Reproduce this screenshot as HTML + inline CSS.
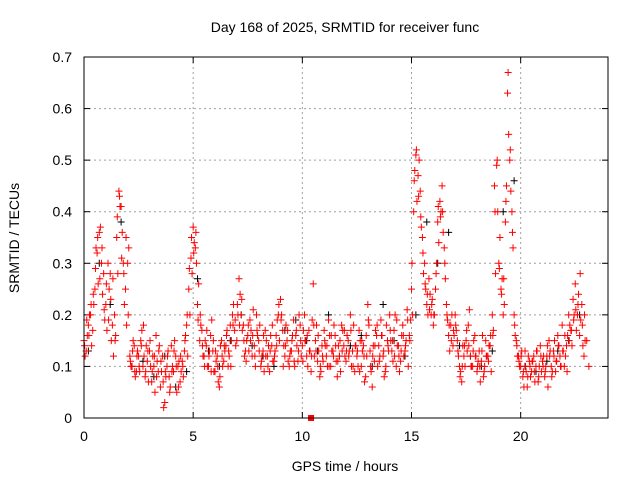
<!DOCTYPE html>
<html><head><meta charset="utf-8"><style>
body{margin:0;background:#fff;width:640px;height:480px;overflow:hidden}
svg{font-family:"Liberation Sans",sans-serif}
</style></head><body>
<svg id="chart" width="640" height="480" xmlns="http://www.w3.org/2000/svg">
<rect width="640" height="480" fill="#fff"/>
<text x="345" y="32" font-size="14" text-anchor="middle">Day 168 of 2025, SRMTID for receiver func</text>
<text x="345" y="471" font-size="14" text-anchor="middle">GPS time / hours</text>
<text transform="translate(19,238) rotate(-90)" font-size="14" text-anchor="middle">SRMTID / TECUs</text>
<g id="grid"></g><g id="ticks"></g><g id="marks"></g>
<rect x="84" y="57" width="524" height="361" fill="none" stroke="#000" stroke-width="1"/>
</svg>
<script>
const xTicks=[0,5,10,15,20];
const yTicks=[0,0.1,0.2,0.3,0.4,0.5,0.6,0.7];
const redStart=0, redStep=0.1;
const redA=[.15,.13,.18,.2,.17,.25,.32,.36,.3,.28,.22,.3,.28,.18,.2,.35,.44,.41,.3,.25,.3,.12,.1,.14,.09,.12,.15,.1,.08,.11,.13,.07,.1,.16,.09,.06,.12,.03,.1,.08,.14,.09,.12,.1,.07,.11,.13,.18,.25,.31,.37,.33,.22,.15,.17,.12,.14,.1,.16,.13,.09,.12,.06,.15,.11,.14,.1,.18,.2,.17,.15,.27,.2,.18,.13,.16,.19,.12,.14,.2,.15,.1,.13,.17,.12,.09,.14,.11,.16,.2,.23,.17,.12,.15,.1,.13,.19,.16,.11,.18,.14,.2,.12,.17,.09,.26,.15,.11,.08,.14,.17,.12,.19,.1,.13,.16,.08,.12,.18,.14,.11,.15,.2,.13,.09,.12,.17,.1,.14,.08,.22,.13,.06,.11,.16,.14,.19,.12,.09,.15,.2,.13,.17,.1,.14,.11,.18,.13,.21,.16,.25,.4,.51,.47,.44,.35,.3,.22,.27,.2,.18,.25,.38,.42,.45,.33,.22,.16,.18,.14,.2,.15,.1,.07,.12,.15,.18,.12,.1,.16,.09,.13,.11,.08,.15,.12,.14,.2,.45,.49,.3,.25,.2,.38,.63,.5,.4,.2,.15,.12,.1,.08,.13,.06,.11,.09,.12,.1,.07,.14,.11,.08,.12,.15,.1,.13,.09,.16,.12,.18,.1,.14,.2,.17,.23,.26,.2,.16,.22,.12];
const redBStart=0.05;
const redB=[.12,.16,.2,.14,.22,.33,.26,.37,.24,.19,.17,.25,.15,.12,.16,.28,.41,.36,.22,.18,.33,.1,.15,.08,.13,.09,.17,.12,.14,.07,.1,.12,.05,.11,.14,.09,.02,.08,.13,.06,.1,.15,.05,.11,.09,.08,.16,.12,.2,.28,.34,.3,.26,.18,.12,.15,.1,.13,.19,.09,.11,.07,.14,.1,.13,.17,.12,.15,.22,.14,.2,.24,.17,.12,.15,.13,.17,.21,.1,.16,.18,.12,.09,.15,.14,.16,.11,.13,.19,.15,.2,.14,.18,.11,.13,.16,.1,.14,.2,.12,.17,.15,.1,.13,.19,.12,.18,.13,.09,.11,.14,.1,.16,.13,.18,.11,.14,.09,.17,.12,.16,.13,.1,.18,.14,.1,.15,.13,.07,.12,.18,.09,.14,.17,.1,.12,.16,.08,.18,.13,.15,.11,.2,.14,.09,.16,.12,.15,.1,.19,.2,.48,.42,.5,.37,.28,.25,.2,.24,.23,.2,.3,.34,.4,.36,.27,.19,.13,.2,.16,.17,.12,.09,.14,.1,.13,.21,.1,.15,.12,.11,.07,.16,.1,.12,.14,.09,.17,.28,.4,.35,.27,.22,.45,.55,.44,.33,.16,.12,.1,.13,.06,.09,.12,.08,.11,.07,.13,.1,.09,.12,.1,.06,.13,.09,.15,.11,.14,.1,.13,.12,.16,.18,.14,.2,.17,.24,.19,.14,.15];
const redCStart=0.025;
const redC=[.14,.19,.16,.22,.24,.29,.35,.27,.33,.21,.26,.19,.23,.27,.15,.39,.43,.31,.28,.35,.2,.11,.13,.09,.12,.1,.14,.18,.09,.13,.15,.09,.12,.08,.13,.11,.07,.09,.12,.05,.09,.13,.1,.06,.12,.1,.15,.2,.29,.35,.32,.36,.19,.2,.14,.1,.17,.12,.09,.15,.13,.1,.08,.12,.14,.16,.13,.1,.18,.19,.22,.18,.23,.15,.11,.18,.15,.16,.12,.17,.13,.11,.16,.12,.1,.13,.18,.12,.14,.22,.19,.1,.14,.17,.12,.15,.11,.17,.13,.15,.11,.15,.16,.13,.12,.18,.13,.16,.1,.12,.15,.14,.1,.16,.12,.14,.11,.15,.13,.17,.13,.12,.17,.1,.14,.13,.09,.15,.12,.16,.19,.1,.12,.14,.18,.11,.16,.13,.1,.14,.17,.15,.12,.19,.12,.13,.16,.14,.19,.15,.3,.46,.52,.43,.39,.32,.26,.24,.21,.22,.2,.28,.41,.39,.4,.3,.2,.18,.15,.17,.18,.13,.08,.1,.14,.17,.14,.1,.13,.12,.1,.1,.13,.09,.12,.11,.16,.16,.4,.5,.29,.24,.27,.42,.67,.52,.36,.18,.14,.11,.12,.09,.1,.08,.1,.11,.09,.13,.08,.12,.1,.09,.14,.12,.08,.12,.11,.14,.1,.13,.16,.09,.15,.17,.19,.21,.22,.28,.18,.2,.15,.1];
const blackStart=0.2, blackStep=0.5;
const black=[.13,.3,.22,.38,.1,.11,.08,.12,.06,.09,.27,.13,.1,.15,.2,.14,.12,.1,.17,.19,.15,.13,.2,.12,.14,.16,.1,.22,.15,.12,.2,.38,.3,.36,.14,.12,.1,.13,.4,.46,.1,.09,.11,.13,.15,.2];
const squareT=[10.4], squareV=[0];

const X=t=>84+t*(524/24);
const Y=v=>418-v*(361/0.7);
const NS="http://www.w3.org/2000/svg";
function mk(tag,at,parent){const e=document.createElementNS(NS,tag);for(const k in at)e.setAttribute(k,at[k]);parent.appendChild(e);return e;}
const grid=document.getElementById('grid'),ticks=document.getElementById('ticks'),marks=document.getElementById('marks');
xTicks.forEach(t=>{
  const x=X(t);
  if(t>0){const g=mk('line',{x1:x,y1:57,x2:x,y2:418,stroke:'#a0a0a0','stroke-dasharray':'2,3'},grid);
  
  }
  mk('line',{x1:x,y1:418,x2:x,y2:412,stroke:'#000'},ticks);
  mk('line',{x1:x,y1:57,x2:x,y2:63,stroke:'#000'},ticks);
  const l=mk('text',{x:x,y:441,'font-size':14,'text-anchor':'middle'},ticks);l.textContent=t;
  
  
});
yTicks.forEach(v=>{
  const y=Y(v);
  if(v>0&&v<0.7){const g=mk('line',{x1:84,y1:y,x2:608,y2:y,stroke:'#a0a0a0','stroke-dasharray':'2,3'},grid);
  
  }
  mk('line',{x1:84,y1:y,x2:90,y2:y,stroke:'#000'},ticks);
  mk('line',{x1:608,y1:y,x2:602,y2:y,stroke:'#000'},ticks);
  const l=mk('text',{x:72,y:y+5,'font-size':14,'text-anchor':'end'},ticks);l.textContent=(v===0?'0':v.toFixed(1));
  
  
});
function cross(t,v,col){
  const x=X(t),y=Y(v);
  const p=mk('path',{d:`M${x-3.5},${y}h7M${x},${y-3.5}v7`,stroke:col,'stroke-width':1,fill:'none'},marks);
  
  
}
black.forEach((v,i)=>cross(blackStart+i*blackStep,v,'#000'));
redA.forEach((v,i)=>cross(redStart+i*redStep,v,'#ff0000'));
redB.forEach((v,i)=>cross(redBStart+i*redStep,v,'#ff0000'));
redC.forEach((v,i)=>cross(redCStart+i*redStep,v,'#ff0000'));
squareT.forEach((t,i)=>{
  const s=mk('rect',{x:X(t)-3,y:Y(squareV[i])-3,width:6,height:6,fill:'#ff0000'},marks);
  
  
});
</script>
</body></html>
